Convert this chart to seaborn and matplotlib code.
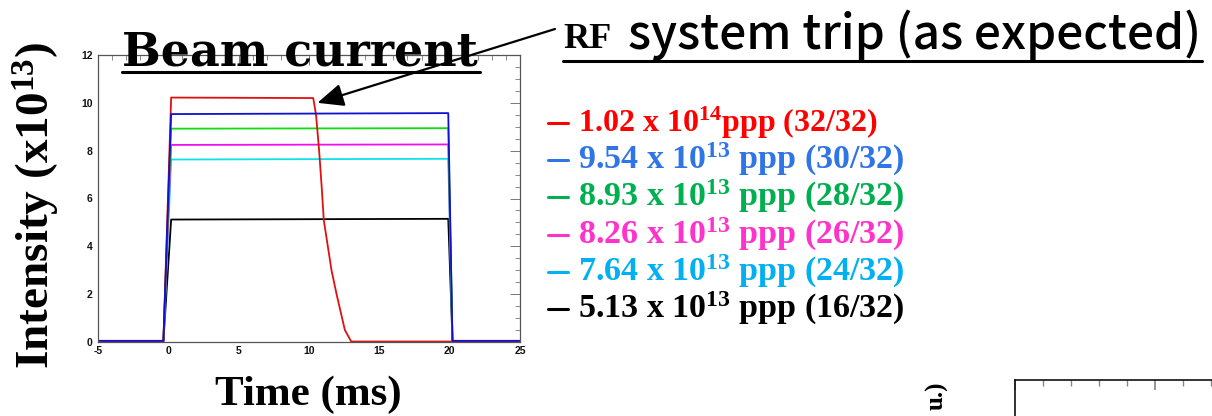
import numpy as np
import pandas as pd
import matplotlib
matplotlib.use("Agg")
import matplotlib.pyplot as plt
from matplotlib.lines import Line2D
from matplotlib.ticker import MultipleLocator
import seaborn as sns

# ---------------- data ----------------
series_labels = ["1.02 x 10$^{14}$ppp (32/32)", "9.54 x 10$^{13}$ ppp (30/32)",
                 "8.93 x 10$^{13}$ ppp (28/32)", "8.26 x 10$^{13}$ ppp (26/32)",
                 "7.64 x 10$^{13}$ ppp (24/32)", "5.13 x 10$^{13}$ ppp (16/32)"]
series_keys = ["32/32", "30/32", "28/32", "26/32", "24/32", "16/32"]

time_red = [-5.0, -0.35, 0.2, 10.3, 10.5, 10.72, 10.9, 11.05, 11.6, 11.96, 12.55, 13.0, 25.0]
intensity_red = [0.02, 0.02, 10.22, 10.2, 9.5, 8.0, 6.5, 5.1, 3.0, 2.0, 0.5, 0.02, 0.02]

time_full = [-5.0, -0.35, 0.2, 19.9, 20.2, 25.0]
intensity_blue = [0.05, 0.05, 9.53, 9.57, 0.05, 0.05]
intensity_green = [0.03, 0.03, 8.92, 8.94, 0.03, 0.03]
intensity_magenta = [0.03, 0.03, 8.24, 8.26, 0.03, 0.03]
intensity_cyan = [0.03, 0.03, 7.63, 7.66, 0.03, 0.03]
intensity_black = [0.03, 0.03, 5.12, 5.15, 0.03, 0.03]

line_colors = ["#e01010", "#1010d0", "#10dd10", "#ee10ee", "#10e0e8", "#000000"]
legend_colors = ["#ff0000", "#2f75e6", "#00b050", "#ff33cc", "#00b0f0", "#000000"]

x_ticks = [-5, 0, 5, 10, 15, 20, 25]
y_ticks = [0, 2, 4, 6, 8, 10, 12]

# ---------------- figure ----------------
sns.set_theme(style="white")
plt.rcParams["font.family"] = ["Liberation Serif", "DejaVu Serif"]
plt.rcParams["text.color"] = "black"
plt.rcParams["axes.unicode_minus"] = False
plt.rcParams["mathtext.fontset"] = "custom"
plt.rcParams["mathtext.rm"] = "Liberation Serif:bold"
plt.rcParams["mathtext.it"] = "Liberation Serif:bold:italic"
plt.rcParams["mathtext.bf"] = "Liberation Serif:bold"

W, H = 1212, 416
fig = plt.figure(figsize=(W / 100, H / 100), dpi=100)
fig.patch.set_facecolor("white")

def fx(px):
    return px / W

def fy(py):
    return 1 - py / H

ax = fig.add_axes([fx(98), fy(342), fx(520) - fx(98), fy(55) - fy(342)])
ax.set_facecolor("white")

frames = [pd.DataFrame({"time": time_red, "intensity": intensity_red, "run": series_keys[0]})]
for key, vals in zip(series_keys[1:], [intensity_blue, intensity_green, intensity_magenta,
                                       intensity_cyan, intensity_black]):
    frames.append(pd.DataFrame({"time": time_full, "intensity": vals, "run": key}))
df = pd.concat(frames, ignore_index=True)

draw_order = ["16/32", "24/32", "26/32", "28/32", "32/32", "30/32"]
palette = dict(zip(series_keys, line_colors))
for key in draw_order:
    sub = df[df["run"] == key]
    sns.lineplot(data=sub, x="time", y="intensity", color=palette[key], lw=1.3,
                 estimator=None, sort=False, ax=ax, legend=False)

ax.set_xlim(-5, 25)
ax.set_ylim(0, 12)
ax.set_xticks(x_ticks)
ax.set_yticks(y_ticks)
ax.xaxis.set_minor_locator(MultipleLocator(1))
ax.yaxis.set_minor_locator(MultipleLocator(0.5))
ax.tick_params(which="both", direction="in", top=True, right=True, colors="#777777",
               labelcolor="#111111")
ax.tick_params(which="major", length=7, width=0.7)
ax.tick_params(which="minor", length=3.5, width=0.6)
ax.tick_params(axis="x", pad=3)
ax.tick_params(axis="y", pad=4)
for lab in ax.get_xticklabels() + ax.get_yticklabels():
    lab.set_fontfamily("Liberation Sans")
    lab.set_fontweight("bold")
    lab.set_fontsize(7.5)
for sp in ax.spines.values():
    sp.set_color("#555555")
    sp.set_linewidth(0.9)
ax.set_xlabel("")
ax.set_ylabel("")

# axis titles
fig.text(fx(308), fy(405), "Time (ms)", fontsize=31, fontweight="bold",
         ha="center", va="baseline")
fig.text(fx(37), fy(205), "Intensity (x10$^{13}$)", fontsize=34, fontweight="bold",
         rotation=90, ha="center", va="center")

# titles with underline
fig.text(fx(300), fy(65), "Beam current", fontsize=33, fontweight="bold",
         family=["DejaVu Serif"], ha="center", va="baseline")
fig.add_artist(Line2D([fx(122), fx(480)], [fy(72), fy(72)], color="black", lw=2.2,
                      transform=fig.transFigure))
fig.text(fx(563), fy(48), "RF", fontsize=26, fontweight="bold",
         ha="left", va="baseline")
fig.text(fx(1201), fy(48), "system trip (as expected)", fontsize=34.5,
         family=["Noto Sans CJK JP", "DejaVu Sans"], fontweight="medium",
         ha="right", va="baseline")
fig.add_artist(Line2D([fx(563), fx(1202)], [fy(61), fy(61)], color="black", lw=2.2,
                      transform=fig.transFigure))

# arrow
ax.annotate("", xy=(10.6, 10.0), xycoords="data", xytext=(555, H - 29),
            textcoords="figure pixels",
            arrowprops=dict(arrowstyle="-|>,head_length=0.8,head_width=0.35",
                            color="black", lw=1.6, mutation_scale=20, shrinkA=0, shrinkB=0))

# legend
legend_base = [132, 169, 206, 244, 281, 318]
legend_sizes = [23, 24.5, 24.5, 24.5, 24.5, 24.5]
for lab, col, yy, fs in zip(series_labels, legend_colors, legend_base, legend_sizes):
    fig.add_artist(Line2D([fx(548), fx(568)], [fy(yy - 9), fy(yy - 9)], color=col, lw=2.2,
                          transform=fig.transFigure))
    fig.text(fx(578), fy(yy), lab, color=col, fontsize=fs, fontweight="bold",
             ha="left", va="baseline")

# partial next panel (cut off at the bottom right)
fig.text(fx(937), fy(382), "u.)", fontsize=18, fontweight="bold",
         rotation=90, ha="center", va="top")
ax2 = fig.add_axes([fx(1015), fy(380) - 0.6, 0.3, 0.6])
ax2.set_xlim(0, 10)
ax2.set_ylim(0, 10)
ax2.xaxis.set_major_locator(MultipleLocator(140 / 363.6 * 10))
ax2.xaxis.set_minor_locator(MultipleLocator(28 / 363.6 * 10))
ax2.yaxis.set_major_locator(MultipleLocator(10))
ax2.tick_params(which="both", direction="in", top=True, bottom=False, labelbottom=False,
                labelleft=False, colors="#888888")
ax2.tick_params(which="major", length=7)
ax2.tick_params(which="minor", length=4)
for sp in ax2.spines.values():
    sp.set_color("#111111")
    sp.set_linewidth(1.2)

fig.savefig("out.png", dpi=100, facecolor="white")
